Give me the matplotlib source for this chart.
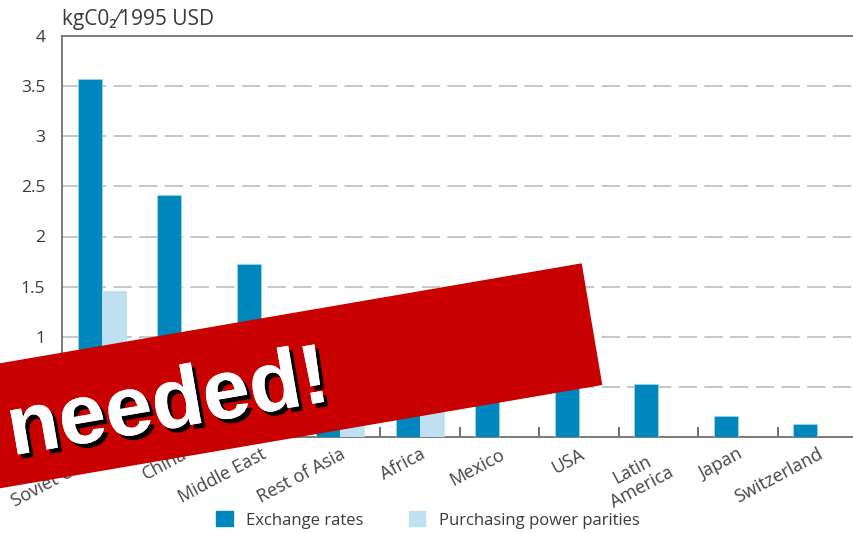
import matplotlib
matplotlib.use("Agg")
import matplotlib.pyplot as plt
import matplotlib.patheffects as pe
from matplotlib.patches import Polygon, Patch
import numpy as np

plt.rcParams['font.family'] = ['Open Sans', 'DejaVu Sans']
plt.rcParams['lines.scale_dashes'] = False

categories = ["Soviet Union", "China", "Middle East", "Rest of Asia", "Africa",
              "Mexico", "USA", "Latin\nAmerica", "Japan", "Switzerland"]
exchange_rates = [3.57, 2.41, 1.73, 1.00, 1.05, 0.75, 0.70, 0.53, 0.21, 0.13]
ppp = [1.46, 0.70, 0.90, 0.35, 0.40, 0, 0, 0, 0, 0]
yticks = [0, 0.5, 1, 1.5, 2, 2.5, 3, 3.5, 4]
ytick_labels = ["0", "0.5", "1", "1.5", "2", "2.5", "3", "3.5", "4"]
unit_label = "kgC0\u2082\u20441995 USD"
legend_labels = ["Exchange rates", "Purchasing power parities"]
banner_text = "needed!"

W, H = 854, 533
fig = plt.figure(figsize=(W / 100, H / 100), dpi=100)
fig.patch.set_facecolor('white')

ax = fig.add_axes([62 / W, (H - 437) / H, 795 / W, 401 / H])
dark = '#0087bd'
light = '#bfe0f1'
x = np.arange(len(categories))
bw = 0.30
ax.bar(x - bw / 2, exchange_rates, bw, color=dark, edgecolor='#9bd2ea', linewidth=0.6, zorder=3)
ax.bar(x + bw / 2, ppp, bw, color=light, edgecolor=light, linewidth=0.6, zorder=3)

ax.set_xlim(-0.5, len(categories) - 0.5)
ax.set_ylim(0, 4)
ax.set_yticks(yticks)
ax.set_yticklabels(ytick_labels)
ax.tick_params(axis='y', length=0, pad=12, labelsize=12.5, labelcolor='#3a3a3a')

ax.set_xticks(x)
ax.set_xticks(np.arange(len(categories) + 1) - 0.5, minor=True)
ax.tick_params(axis='x', which='major', length=0, pad=6, labelsize=13, labelcolor='#444444')
ax.tick_params(axis='x', which='minor', direction='in', length=7, width=1.2, color='#555555')
ax.set_xticklabels(categories)
for lbl in ax.get_xticklabels():
    lbl.set_rotation(28)
    lbl.set_rotation_mode('anchor')
    lbl.set_ha('right')
    lbl.set_va('top')
    lbl.set_multialignment('center')

for v in yticks[1:-1]:
    ax.axhline(v, color='#c2c2c2', linewidth=1.3, dashes=(13.2, 5.3), zorder=1)

for s in ['left', 'bottom', 'top']:
    ax.spines[s].set_color('#6f6f6f')
    ax.spines[s].set_linewidth(1.3)
ax.spines['right'].set_visible(False)

fig.text(62 / W, 1 - 25 / H, unit_label, fontsize=15, color='#3a3a3a',
         ha='left', va='baseline')

handles = [Patch(facecolor=dark, edgecolor=dark), Patch(facecolor=light, edgecolor=light)]
fig.legend(handles, legend_labels, loc='center', bbox_to_anchor=(428 / W, 1 - 520 / H),
           ncol=2, frameon=False, fontsize=12, handlelength=1.0, handleheight=1.0,
           handletextpad=0.8, columnspacing=2.7, labelcolor='#3a3a3a')

# overlay banner
ov = fig.add_axes([0, 0, 1, 1], zorder=10)
ov.set_xlim(0, W)
ov.set_ylim(H, 0)
ov.axis('off')
ov.patch.set_alpha(0)
banner = Polygon([(-60, 373.6), (581.7, 263.3), (602.3, 385), (-60, 498.6)],
                 closed=True, facecolor='#c80000', edgecolor='none')
ov.add_patch(banner)
ov.text(172, 428, banner_text, fontsize=61, fontweight='bold', color='white',
        family=['Liberation Sans', 'DejaVu Sans'], rotation=9.75,
        rotation_mode='anchor', ha='center', va='baseline',
        path_effects=[pe.withSimplePatchShadow(offset=(3, -3), shadow_rgbFace='black', alpha=1.0),
                      pe.Normal()])

fig.savefig('out.png', dpi=100)
